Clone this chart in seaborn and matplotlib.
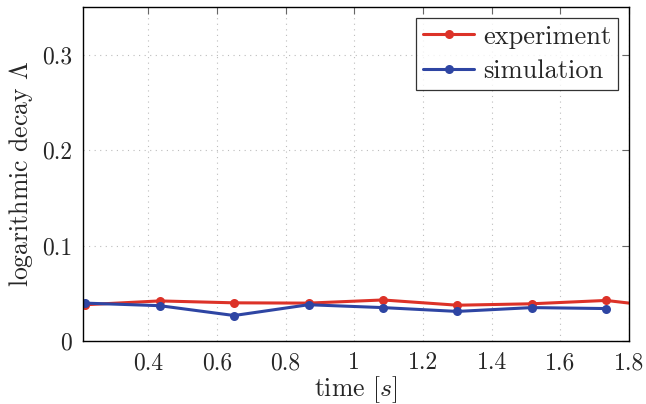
import matplotlib
matplotlib.use("Agg")
import matplotlib.pyplot as plt
import matplotlib.ticker as mticker
import seaborn as sns
import pandas as pd

# data
time = [0.2167, 0.4333, 0.65, 0.8667, 1.0833, 1.3, 1.5167, 1.7333, 1.95]
experiment = [0.038, 0.042, 0.040, 0.0397, 0.043, 0.0375, 0.039, 0.0425, 0.0335]
sim_time = [0.2167, 0.4333, 0.65, 0.8667, 1.0833, 1.3, 1.5167, 1.7333]
simulation = [0.0397, 0.037, 0.0267, 0.038, 0.035, 0.031, 0.035, 0.034]
x_ticks = [0.4, 0.6, 0.8, 1.0, 1.2, 1.4, 1.6, 1.8]
y_ticks = [0.0, 0.1, 0.2, 0.3]

sns.set_theme(style="white")
plt.rcParams["font.family"] = ["cmr10", "DejaVu Serif"]
plt.rcParams["mathtext.fontset"] = "cm"
plt.rcParams["axes.formatter.use_mathtext"] = True

df = pd.concat([
    pd.DataFrame({"time": time, "value": experiment, "series": "experiment"}),
    pd.DataFrame({"time": sim_time, "value": simulation, "series": "simulation"}),
])

fig = plt.figure(figsize=(6.46, 4.04), dpi=100)
ax = fig.add_axes([83 / 646, 1 - 341 / 404, (629 - 83) / 646, (341 - 7) / 404])

palette = {"experiment": "#dc3228", "simulation": "#2e45a3"}
sns.lineplot(data=df, x="time", y="value", hue="series", palette=palette,
             marker="o", markersize=6.5, markeredgewidth=0, linewidth=2.2,
             ax=ax, sort=False, clip_on=True)

ax.set_xlim(0.21, 1.8)
ax.set_ylim(0, 0.35)
ax.set_xticks(x_ticks)
ax.set_yticks(y_ticks)

fmt = mticker.FuncFormatter(lambda v, p: ("%g" % round(v, 3)))
ax.xaxis.set_major_formatter(fmt)
ax.yaxis.set_major_formatter(fmt)

ax.grid(True, color="#bcbcbc", linestyle=(0, (1, 4)), linewidth=0.8)
ax.tick_params(direction="in", length=5, width=0.8, color="#666666",
               top=True, right=True, labelsize=17, pad=8)
for s in ax.spines.values():
    s.set_color("black")
    s.set_linewidth(1.0)

ax.set_xlabel("time $[s]$", fontsize=18.5, labelpad=0)
ax.set_ylabel(r"logarithmic decay $\Lambda$", fontsize=18.5, labelpad=5)

leg = ax.legend(loc="upper right", fontsize=19, frameon=True, fancybox=False,
                borderaxespad=0.4, handlelength=1.9, handletextpad=0.35,
                labelspacing=0.4, borderpad=0.28)
leg.get_frame().set_edgecolor("black")
leg.get_frame().set_linewidth(0.9)
leg.set_title(None)

fig.savefig("out.png", dpi=100)
